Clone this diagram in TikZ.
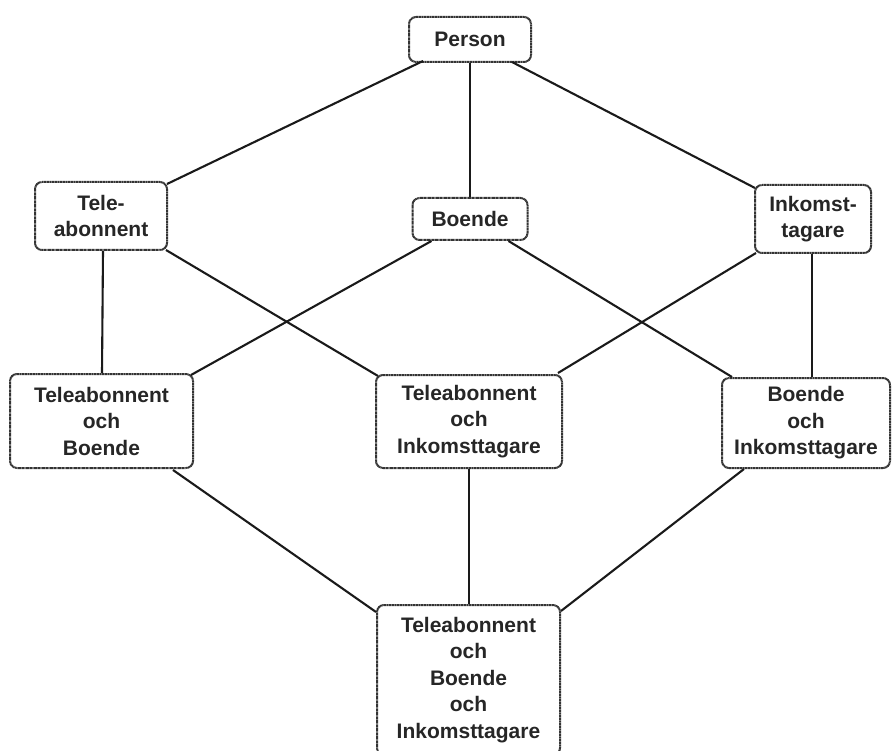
\documentclass[tikz,border=0pt]{standalone}
\usepackage{fontspec}
\setmainfont{Liberation Sans}
\usetikzlibrary{calc}
\definecolor{inkline}{HTML}{1A1A1A}
\definecolor{inktext}{HTML}{262626}
\definecolor{boxedge}{HTML}{333333}
\tikzset{
  entity/.style={
    draw=boxedge, line width=2pt, fill=white, rounded corners=7pt,
    dash pattern=on 1.2pt off 0.4pt,
    inner sep=0pt, align=center, text=inktext,
    font=\fontsize{21}{26.5}\selectfont\bfseries
  },
  link/.style={draw=inkline, line width=2.1pt}
}
\begin{document}
\begin{tikzpicture}[x=1pt,y=-1pt]
  \useasboundingbox (0,0) rectangle (894,751);

  % boxes
  \node[entity, minimum width=122pt, minimum height=45pt] (person) at (470,39.5) {Person};
  \node[entity, minimum width=132pt, minimum height=68pt] (tele) at (101,216) {Tele-\\abonnent};
  \node[entity, minimum width=115pt, minimum height=42pt] (boende) at (470,219) {Boende};
  \node[entity, minimum width=116pt, minimum height=68pt] (inkomst) at (813,219) {Inkomst-\\tagare};

  \node[entity, minimum width=183pt, minimum height=94pt] (tb) at (101.5,421) {Teleabonnent\\och\\Boende};
  \node[entity, minimum width=186pt, minimum height=93pt] (ti) at (469,421.5) {Teleabonnent\\och\\Inkomsttagare};
  \node[entity, minimum width=168pt, minimum height=90pt] (bi) at (806,423) {Boende\\och\\Inkomsttagare};

  \node[entity, minimum width=183pt, minimum height=150pt] (all) at (468.5,680) {Teleabonnent\\och\\Boende\\och\\Inkomsttagare};

  % first level
  \draw[link] ($(person.south west)+(15,-2)$) -- ($(tele.north east)+(-1,3)$);
  \draw[link] (person.south) -- (boende.north);
  \draw[link] ($(person.south east)+(-20,-1)$) -- ($(inkomst.north west)+(1,4)$);

  % second level
  \draw[link] ($(tele.south)+(2,0)$) -- ($(tb.north)+(0.5,0)$);
  \draw[link] ($(tele.south east)+(-2,-1)$) -- ($(ti.north west)+(3,2)$);
  \draw[link] ($(boende.south west)+(20,0)$) -- ($(tb.north east)+(-3,2)$);
  \draw[link] ($(boende.south east)+(-20,0)$) -- ($(bi.north west)+(11,0)$);
  \draw[link] ($(inkomst.south west)+(2,-1)$) -- ($(ti.north east)+(-5,-1)$);
  \draw[link] ($(inkomst.south)+(-1,0)$) -- ($(bi.north)+(6,0)$);

  % third level
  \draw[link] ($(tb.south east)+(-21,1)$) -- ($(all.north west)+(0,8)$);
  \draw[link] (ti.south) -- ($(all.north)+(0.5,0)$);
  \draw[link] ($(bi.south west)+(23,0)$) -- ($(all.north east)+(0,7)$);
\end{tikzpicture}
\end{document}
